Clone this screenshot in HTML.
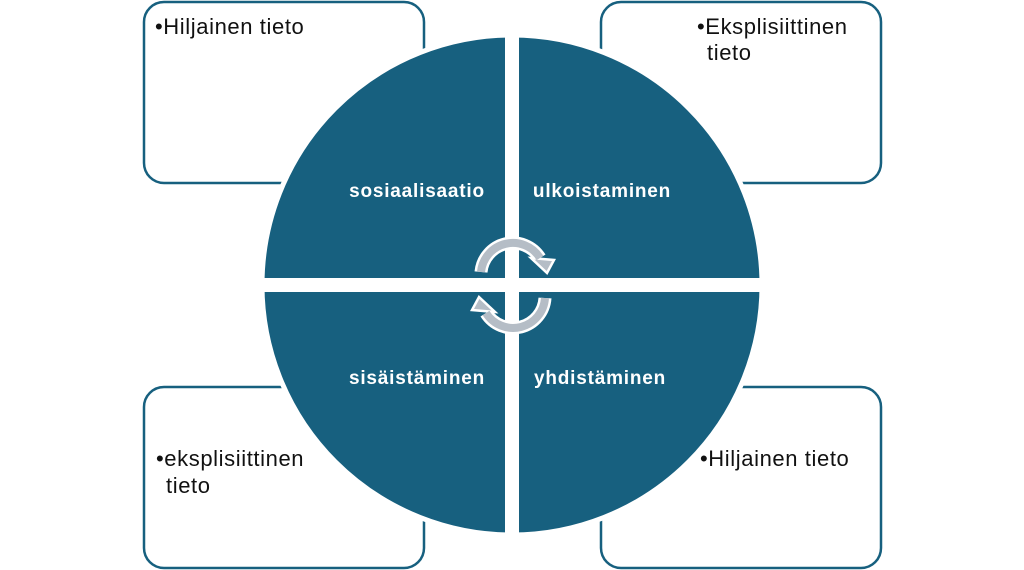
<!DOCTYPE html>
<html><head><meta charset="utf-8"><style>
html,body{margin:0;padding:0;background:#fff;}
svg{display:block;}
</style></head><body>
<svg width="1024" height="570" viewBox="0 0 1024 570" xmlns="http://www.w3.org/2000/svg">
<g fill="#fff" stroke="#17607f" stroke-width="2.5">
<rect x="144" y="2" width="280" height="181" rx="20"/>
<rect x="601" y="2" width="280" height="181" rx="20"/>
<rect x="144" y="387" width="280" height="181" rx="20"/>
<rect x="601" y="387" width="280" height="181" rx="20"/>
</g>
<g font-family="Liberation Sans, sans-serif" font-size="22" letter-spacing="0.6" fill="#111">
<text x="155" y="34">•Hiljainen tieto</text>
<text x="697" y="34">•Eksplisiittinen</text>
<text x="707" y="60">tieto</text>
<text x="156" y="466">•eksplisiittinen</text>
<text x="166" y="493">tieto</text>
<text x="700" y="466">•Hiljainen tieto</text>
</g>
<circle cx="512" cy="285" r="250" fill="#17607f" stroke="#fff" stroke-width="5"/>
<rect x="505" y="30" width="14" height="510" fill="#fff"/>
<rect x="258" y="278" width="508" height="14" fill="#fff"/>
<g font-family="Liberation Sans, sans-serif" font-size="19" letter-spacing="0.8" font-weight="bold" fill="#fff" text-anchor="middle">
<text x="417" y="197">sosiaalisaatio</text>
<text x="602" y="197">ulkoistaminen</text>
<text x="417" y="384">sisäistäminen</text>
<text x="600" y="384">yhdistäminen</text>
</g>
<g stroke-linejoin="miter">
<path d="M481,272 A32,32 0 0 1 540,258" fill="none" stroke="#fff" stroke-width="13"/>
<polygon points="531,258 554,260 547,273" fill="#b5bdc6" stroke="#fff" stroke-width="2.5"/>
<path d="M481,272 A32,32 0 0 1 540,258" fill="none" stroke="#b5bdc6" stroke-width="8"/>
<path d="M545,298 A32,32 0 0 1 486,313" fill="none" stroke="#fff" stroke-width="13"/>
<polygon points="495,312 472,310 479,297" fill="#b5bdc6" stroke="#fff" stroke-width="2.5"/>
<path d="M545,298 A32,32 0 0 1 486,313" fill="none" stroke="#b5bdc6" stroke-width="8"/>
</g>
</svg>
</body></html>
